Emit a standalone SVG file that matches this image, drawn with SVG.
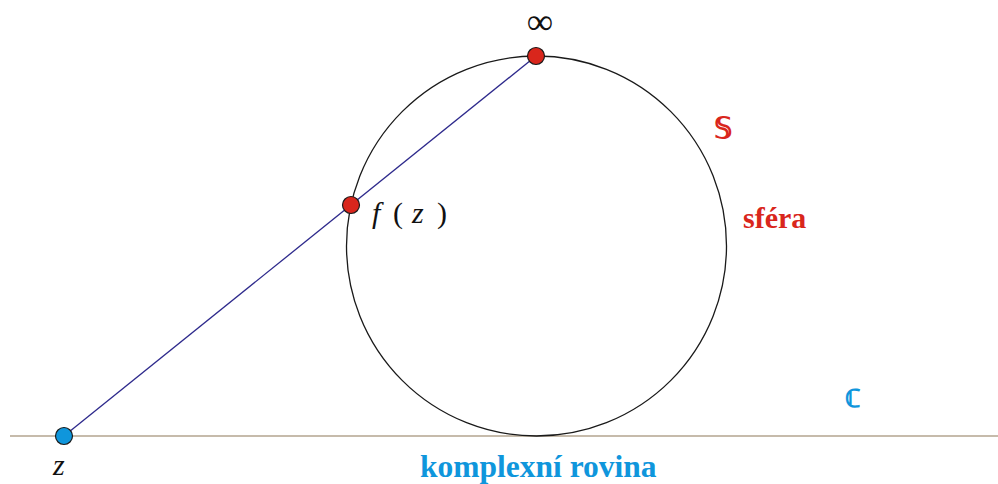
<svg xmlns="http://www.w3.org/2000/svg" width="998" height="484" viewBox="0 0 998 484">
<style>
.red{fill:#d9261c}
.blue{fill:#0f96dc}
.lbl{font-family:"Liberation Serif","DejaVu Serif",serif}
.b{font-weight:bold}
.it{font-style:italic;fill:#111}
.up{font-style:normal;fill:#111}
.dot{stroke:#1a1a1a;stroke-width:1.2}
</style>
<rect width="998" height="484" fill="#fff"/>
<g id="plane">
<line x1="10" y1="436" x2="998" y2="436" stroke="#b3a48f" stroke-width="1.5"/>
</g>
<g id="sphere">
<circle cx="536.5" cy="246" r="190" fill="none" stroke="#1a1a1a" stroke-width="1.3"/>
</g>
<g id="connectors">
<line x1="64" y1="436" x2="536" y2="56" stroke="#2e2a8c" stroke-width="1.3"/>
</g>
<g id="node-inf">
<circle class="dot red" cx="536" cy="56" r="8.5"/>
<text class="lbl" x="540" y="34" font-size="37" text-anchor="middle" fill="#111">∞</text>
</g>
<g id="node-fz">
<circle class="dot red" cx="351" cy="205" r="8.5"/>
<text class="lbl" y="223" font-size="30"><tspan class="it" x="372">f</tspan><tspan class="up" x="393">(</tspan><tspan class="it" x="412">z</tspan><tspan class="up" x="437">)</tspan></text>
</g>
<g id="node-z">
<circle class="dot blue" cx="64" cy="436" r="8.5"/>
<text class="lbl it" x="53" y="475" font-size="30">z</text>
</g>
<g id="labels">
<text class="lbl b red" x="714" y="138" font-size="29">𝕊</text>
<text class="lbl b red" x="743" y="228" font-size="30">sféra</text>
<text class="lbl b blue" x="845" y="407" font-size="25">ℂ</text>
<text class="lbl b blue" x="420" y="477" font-size="31.5">komplexní rovina</text>
</g>
</svg>
